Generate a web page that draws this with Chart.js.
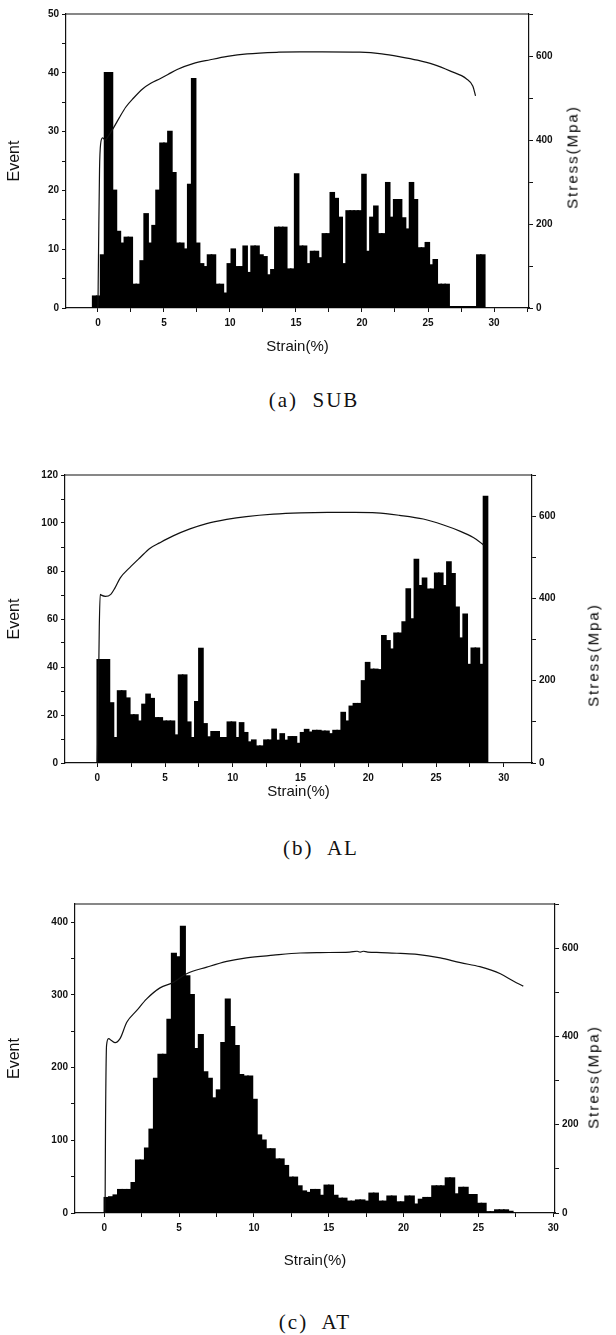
<!DOCTYPE html>
<html>
<head>
<meta charset="utf-8">
<title>AE event count and stress vs strain</title>
<script src="https://cdn.jsdelivr.net/npm/chart.js@4.4.1/dist/chart.umd.min.js"></script>
<style>
  body { margin: 0; background: #fff; }
  #page { position: relative; width: 616px; height: 1335px; overflow: hidden; }
  .panel { position: absolute; left: 0; width: 616px; }
  .caption {
    position: absolute; transform: translate(-50%, -50%);
    font-family: "Liberation Serif", serif; font-size: 21px; letter-spacing: 2px;
    white-space: pre; color: #111;
  }
  .stress {
    position: absolute; transform: translate(-50%, -50%) rotate(-90deg);
    font-family: "Liberation Sans", sans-serif; font-size: 15px; letter-spacing: 2px;
    white-space: nowrap; color: #000;
  }
</style>
</head>
<body>
<div id="page">
  <div class="panel" style="top:0;height:360px"><canvas id="chartA"></canvas></div>
  <div class="stress" style="left:572px;top:157px">Stress(Mpa)</div>
  <div class="caption" style="left:314px;top:400px">(a)  SUB</div>

  <div class="panel" style="top:455px;height:355px"><canvas id="chartB"></canvas></div>
  <div class="stress" style="left:593px;top:655px">Stress(Mpa)</div>
  <div class="caption" style="left:321px;top:848px">(b)  AL</div>

  <div class="panel" style="top:890px;height:390px"><canvas id="chartC"></canvas></div>
  <div class="stress" style="left:593px;top:1077px">Stress(Mpa)</div>
  <div class="caption" style="left:315px;top:1322px">(c)  AT</div>
</div>

<script>
// histogram bins are 0.3 % strain wide; first value is the centre of bin 0
const binWidth = 0.3;

// (a) SUB
const firstBinA = -0.25;
const eventsA = [2, 2, 9, 40, 40, 20, 13, 11, 12, 12,
  4, 4, 8, 16, 11, 14, 20, 28, 28, 30,
  23, 11, 11, 10, 21, 39, 11, 7.5, 7, 9,
  9, 4, 4, 2.5, 7.5, 10, 7, 7, 10.5, 6,
  10.5, 10.5, 9, 8.7, 5.6, 6.5, 13.7, 13.7, 13.7, 6.6,
  6.6, 22.8, 10.5, 10.5, 7.5, 9.6, 9.6, 8.5, 12.6, 12.6,
  19.6, 18.6, 15.4, 7.5, 16.5, 16.5, 16.5, 16.5, 22.7, 9.6,
  15.4, 17.3, 12.6, 12.6, 21.3, 15.4, 18.4, 18.4, 15.3, 13.4,
  21.3, 18.4, 10.2, 10.2, 11.1, 7.3, 8.2, 4, 4, 4,
  0.2, 0.2, 0.2, 0.2, 0.2, 0.2, 0.2, 9, 9];
const strainA = [0, 0.05, 0.12, 0.2, 0.35, 0.55, 0.8, 1.2, 1.6, 2.1, 2.7, 3.4, 4.0, 4.7, 5.3, 6.0,
  7.2, 8.5, 9.8, 11.3, 13.7, 15.3, 17.0, 19.85, 21.5, 22.9, 24.2, 25.4, 26.7, 27.9, 28.4, 28.6];
const stressA = [0, 150, 330, 390, 405, 400, 410, 430, 452, 478, 500, 522, 535, 546, 556, 568,
  582, 591, 599, 605, 609, 610, 610, 609, 605, 598, 590, 580, 564, 546, 528, 505];

// (b) AL
const firstBinB = 0.15;
const eventsB = [43, 43, 43, 25, 10.5, 30, 30, 27, 20, 20,
  17.4, 24.4, 28.6, 26.8, 18.8, 18.8, 17.4, 17.4, 17.4, 11.6,
  36.6, 36.6, 17, 10.5, 25.5, 47.7, 16.3, 10.8, 13, 13,
  10.5, 10.5, 17, 17, 10.5, 16.7, 12.6, 8.7, 9.5, 7,
  7, 9.5, 9.5, 14, 9.4, 12.1, 9.4, 10.9, 10.9, 8.1,
  12.6, 13.9, 12.8, 13.5, 13.5, 13.2, 13.2, 12.1, 13.5, 13.5,
  21, 17.4, 23.6, 24.7, 24.7, 34.2, 41.8, 39, 39, 38.8,
  53, 50.9, 47.4, 54, 54, 58.7, 72.5, 60, 84.8, 73.8,
  77, 72.4, 72.4, 79, 79, 73.8, 83.7, 78.8, 64.9, 52,
  62, 41, 47.8, 47.8, 41, 111];
const strainB = [0, 0.08, 0.15, 0.22, 0.3, 0.6, 1.0, 1.3, 1.7, 2.4, 3.15, 3.9, 4.6, 5.6, 6.84,
  8.07, 9.55, 11.0, 13.0, 15.0, 17.0, 19.0, 20.6, 22.3, 24.06, 25.5, 26.8, 27.75, 28.2, 28.5];
const stressB = [0, 150, 330, 410, 408, 405, 410, 425, 450, 475, 499, 522, 535, 552, 569,
  582, 592, 599, 605, 608, 609, 609, 608, 602, 593, 579, 563, 548, 538, 530];

// (c) AT
const firstBinC = 0.15;
const eventsC = [21, 22, 24.5, 32, 32, 32, 41.5, 72.5, 72.5, 89,
  115, 185, 218, 218, 266, 357, 352, 394, 326, 300,
  226, 245, 194, 185, 158, 169, 234, 294, 256, 230,
  190, 188, 188, 156, 107, 100, 88, 88, 74, 74,
  65, 49, 49, 37, 30, 28, 32, 32, 24, 38,
  38, 24, 20, 20, 16, 16, 17.6, 17.6, 16, 27,
  27, 16, 16, 23, 23, 15, 15, 23, 23, 12,
  18.6, 21, 21, 37, 37, 37, 48, 48, 26, 35,
  35, 25, 25, 13, 13, 1.5, 1.5, 4, 4, 4,
  2];
const strainC = [0.05, 0.08, 0.15, 0.28, 0.5, 0.72, 1.05, 1.5, 2.17, 2.83, 3.72, 4.6, 5.5, 6.85,
  8.18, 9.5, 11.3, 13.1, 14.4, 16.4, 16.9, 17.1, 17.3, 17.6, 18.5, 19.8, 20.9, 22.45, 23.8,
  25.1, 26.47, 27.36, 28.0];
const stressC = [0, 200, 380, 395, 390, 386, 395, 432, 459, 485, 510, 522, 542, 557,
  570, 578, 584, 589, 590, 591, 593, 591, 593, 591, 590, 588, 586, 578, 567,
  558, 542, 525, 514];

const ink = '#111';
const tickFont = { family: "'Liberation Sans Narrow', 'Liberation Sans', sans-serif", size: 10, weight: 'bold' };

const framePlugin = {
  id: 'frame',
  afterDraw(chart) {
    const { ctx, chartArea: a } = chart;
    ctx.save();
    ctx.strokeStyle = ink;
    ctx.lineWidth = 1.2;
    ctx.beginPath();
    ctx.moveTo(a.left, a.top);
    ctx.lineTo(a.right, a.top);
    ctx.stroke();
    ctx.restore();
  }
};

function axisLine() {
  return {
    border: { display: true, color: ink, width: 1.2 },
    grid: { display: true, drawOnChartArea: false, drawTicks: true, tickLength: 4, color: ink, offset: false }
  };
}

function makeChart(id, p) {
  const bars = p.events.map((v, i) => ({ x: p.firstBin + i * binWidth, y: v }));
  const curve = p.strain.map((s, i) => ({ x: s, y: p.stress[i] }));

  const config = {
    type: 'bar',
    data: {
      datasets: [
        {
          type: 'line',
          data: curve,
          yAxisID: 'y2',
          borderColor: ink,
          borderWidth: 1.2,
          pointRadius: 0,
          cubicInterpolationMode: 'monotone',
          order: 0
        },
        {
          type: 'bar',
          data: bars,
          yAxisID: 'y',
          backgroundColor: '#000',
          borderWidth: 0,
          inflateAmount: 0.8,
          barPercentage: 1,
          categoryPercentage: 1,
          order: 1
        }
      ]
    },
    options: {
      responsive: true,
      maintainAspectRatio: false,
      animation: false,
      layout: { padding: { top: p.top, left: 0, right: 0, bottom: 0 } },
      plugins: { legend: { display: false }, tooltip: { enabled: false } },
      scales: {
        x: {
          type: 'linear',
          min: p.xMin,
          max: p.xMax,
          offset: false,
          ...axisLine(),
          ticks: {
            stepSize: 2.5,
            autoSkip: false,
            maxRotation: 0,
            includeBounds: false,
            padding: 5,
            color: ink,
            font: tickFont,
            callback: (v) => (v % 5 === 0 ? v : '')
          },
          title: {
            display: true,
            text: 'Strain(%)',
            color: ink,
            font: { family: "'Liberation Sans Narrow', 'Liberation Sans', sans-serif", size: 15 },
            padding: { top: 0, bottom: p.titlePad }
          },
          afterFit: (s) => { s.height = p.xHeight; }
        },
        y: {
          position: 'left',
          min: 0,
          max: p.yMax,
          ...axisLine(),
          ticks: {
            stepSize: p.yStep / 2,
            includeBounds: false,
            padding: 3,
            color: ink,
            font: tickFont,
            callback: (v) => (v % p.yStep === 0 ? v : '')
          },
          title: {
            display: true,
            text: 'Event',
            color: ink,
            font: { family: "'Liberation Sans', sans-serif", size: 16 },
            padding: { top: 5, bottom: 0 }
          },
          afterFit: (s) => { s.width = p.left; }
        },
        y2: {
          position: 'right',
          min: 0,
          max: 700,
          ...axisLine(),
          ticks: {
            stepSize: 100,
            includeBounds: false,
            padding: 3,
            color: ink,
            font: tickFont,
            callback: (v) => (v % 200 === 0 ? v : '')
          },
          afterFit: (s) => { s.width = 616 - p.right; }
        }
      }
    },
    plugins: [framePlugin]
  };

  return new Chart(document.getElementById(id), config);
}

document.addEventListener('DOMContentLoaded', () => {
  makeChart('chartA', {
    events: eventsA, firstBin: firstBinA, strain: strainA, stress: stressA,
    xMin: -2.42, xMax: 32.65, yMax: 50, yStep: 10,
    top: 14, left: 66, right: 529, xHeight: 52, titlePad: 4.5
  });
  makeChart('chartB', {
    events: eventsB, firstBin: firstBinB, strain: strainB, stress: stressB,
    xMin: -2.38, xMax: 32.08, yMax: 120, yStep: 20,
    top: 20, left: 65, right: 532, xHeight: 47, titlePad: 9
  });
  makeChart('chartC', {
    events: eventsC, firstBin: firstBinC, strain: strainC, stress: stressC,
    xMin: -1.96, xMax: 30.12, yMax: 425, yStep: 100,
    top: 14, left: 75, right: 555, xHeight: 67, titlePad: 10
  });
});
</script>
</body>
</html>
